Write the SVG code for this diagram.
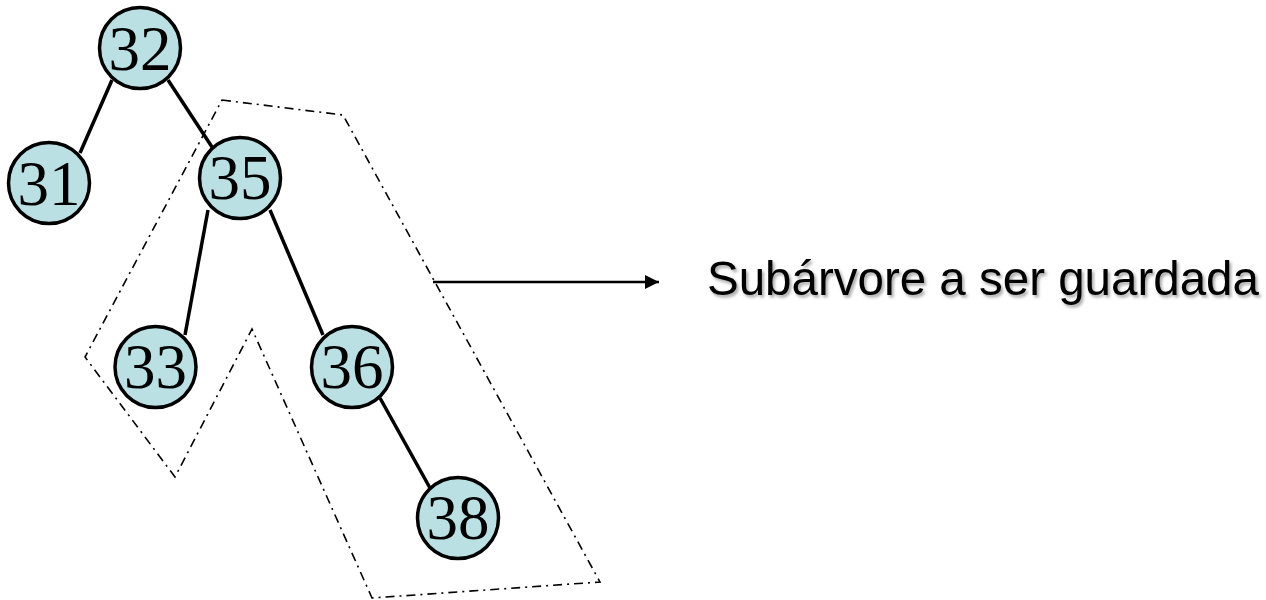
<svg xmlns="http://www.w3.org/2000/svg" width="1266" height="600" viewBox="0 0 1266 600">
  <style>
    .node circle { fill: #bae0e3; stroke: #000; stroke-width: 3.5; }
    .node text { font-family: "Liberation Serif", "Times New Roman", serif; font-size: 63px; fill: #000; text-anchor: middle; }
    .edge { stroke: #000; stroke-width: 3.5; fill: none; }
    .outline { stroke: #000; stroke-width: 1.6; fill: none; stroke-dasharray: 9 5 2 5; }
    .label { font-family: "Liberation Sans", Arial, sans-serif; font-size: 47.5px; fill: #000; }
  </style>
  <defs>
    <marker id="arrow" viewBox="0 0 10 10" refX="10" refY="5" markerWidth="16" markerHeight="14" markerUnits="userSpaceOnUse" orient="auto">
      <path d="M0,0 L10,5 L0,10 z" fill="#000"/>
    </marker>
    <filter id="shadow" x="-5%" y="-30%" width="110%" height="160%">
      <feDropShadow dx="2" dy="2.5" stdDeviation="1.6" flood-color="#000" flood-opacity="0.35"/>
    </filter>
  </defs>

  <rect width="1266" height="600" fill="#fff"/>

  <!-- dash-dot outline around the kept subtree -->
  <polygon class="outline" points="222,100 343,115 600,582 372,598 252,329 175,477 85,357"/>

  <g id="connectors">
    <line class="edge" x1="112" y1="80" x2="80" y2="153"/>
    <line class="edge" x1="168" y1="80" x2="212" y2="147"/>
    <line class="edge" x1="208" y1="210" x2="185" y2="335"/>
    <line class="edge" x1="270" y1="210" x2="323" y2="335"/>
    <line class="edge" x1="380" y1="398" x2="430" y2="488"/>
    <line x1="433" y1="282" x2="659" y2="282" stroke="#000" stroke-width="2.5" marker-end="url(#arrow)"/>
  </g>

  <g id="n32" class="node"><circle cx="140" cy="48" r="40.5"/><text x="140" y="70">32</text></g>
  <g id="n31" class="node"><circle cx="49" cy="183" r="40.5"/><text x="49" y="205">31</text></g>
  <g id="n35" class="node"><circle cx="240" cy="178" r="40.5"/><text x="240" y="199">35</text></g>
  <g id="n33" class="node"><circle cx="155.5" cy="367" r="40.5"/><text x="155.5" y="388">33</text></g>
  <g id="n36" class="node"><circle cx="352" cy="367" r="40.5"/><text x="352" y="388">36</text></g>
  <g id="n38" class="node"><circle cx="458" cy="518" r="40.5"/><text x="458" y="539">38</text></g>

  <g id="caption">
    <text class="label" x="707" y="295" filter="url(#shadow)">Subárvore a ser guardada</text>
  </g>
</svg>
